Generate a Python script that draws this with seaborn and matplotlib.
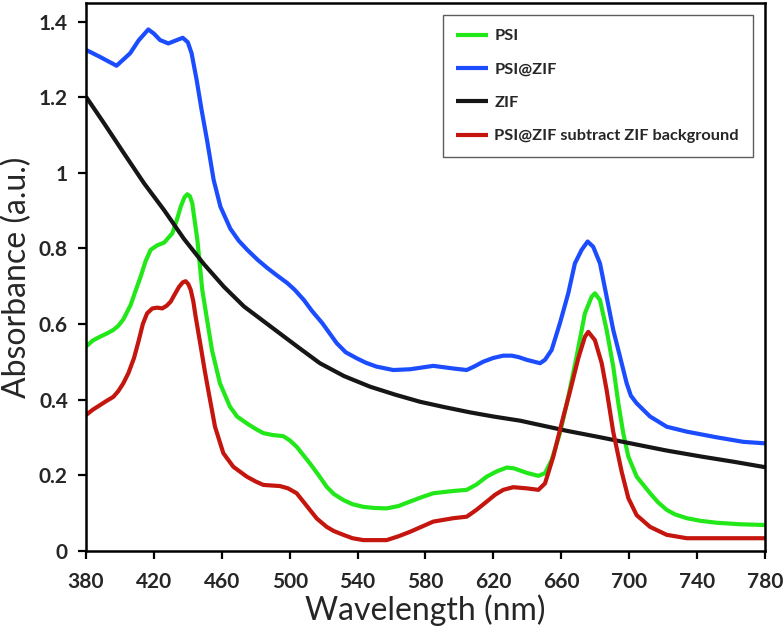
import numpy as np
import pandas as pd
import matplotlib
matplotlib.use("Agg")
import matplotlib.pyplot as plt
from matplotlib.ticker import FuncFormatter
import seaborn as sns

# ---- data ----
psi_zif_wl = [380, 388, 398, 406, 411, 416.7, 420, 423.6, 428.5, 433, 437, 440, 442.2, 445.2, 448.1, 451.3,
              455.2, 459.2, 465, 470, 475, 481, 486.8, 492, 498.6, 503, 508.4, 513, 519.2, 527.7, 533, 539.5,
              545, 551.2, 561, 570.9, 584.6, 596.4, 604.3, 609, 614, 620, 625.8, 630.8, 635, 639.6, 647.5,
              650.4, 654.3, 659.2, 664.1, 668, 672, 675.5, 678.8, 682.8, 686.7, 690.6, 694.6, 698.5, 701,
              704.4, 712.3, 722.1, 733.9, 751.5, 767.2, 780]
psi_zif_abs = [1.325, 1.307, 1.283, 1.316, 1.350, 1.379, 1.368, 1.351, 1.342, 1.350, 1.357, 1.345, 1.316, 1.245,
               1.166, 1.086, 0.981, 0.910, 0.852, 0.820, 0.796, 0.770, 0.748, 0.730, 0.708, 0.690, 0.663, 0.635,
               0.602, 0.549, 0.525, 0.509, 0.497, 0.487, 0.478, 0.480, 0.489, 0.482, 0.478, 0.488, 0.500, 0.510,
               0.516, 0.516, 0.512, 0.505, 0.496, 0.505, 0.531, 0.602, 0.681, 0.760, 0.796, 0.818, 0.804, 0.760,
               0.672, 0.584, 0.513, 0.443, 0.410, 0.390, 0.355, 0.328, 0.315, 0.300, 0.288, 0.284]

zif_wl = [380, 390.6, 402.4, 414.2, 426, 437.7, 449.5, 461.3, 473.1, 488.8, 504.5, 517.8, 532, 547.3, 562,
          576.8, 591, 606.2, 620, 635.7, 649, 663.4, 683, 703, 722, 742.6, 762, 780]
zif_abs = [1.201, 1.131, 1.051, 0.972, 0.901, 0.825, 0.758, 0.698, 0.646, 0.593, 0.540, 0.496, 0.462, 0.434,
           0.413, 0.394, 0.380, 0.366, 0.355, 0.344, 0.331, 0.317, 0.300, 0.282, 0.265, 0.249, 0.235, 0.221]

psi_wl = [380, 384, 388.2, 392, 396.1, 399, 402, 406.3, 409, 412.2, 415, 418.1, 422, 426, 430.9, 433.5, 435.8,
          438, 439.7, 441.2, 442.6, 445.6, 448.5, 451, 454.2, 458.9, 464.8, 469, 474.7, 480, 484.5, 490,
          496.2, 500, 504.1, 511.9, 517, 521.8, 526, 531.6, 537, 543.4, 550, 557.1, 564, 570.9, 578, 584.6,
          596.4, 604.3, 610, 616.1, 622, 627.9, 632, 639.6, 646.5, 650.4, 654.3, 659.2, 664.1, 669, 673.9,
          677.9, 679.8, 682.8, 686.7, 690.6, 693.6, 696.5, 699.5, 704.4, 712.3, 717, 722.1, 727, 733.9, 742,
          751.5, 765, 780]
psi_abs = [0.540, 0.556, 0.566, 0.574, 0.584, 0.595, 0.612, 0.650, 0.685, 0.725, 0.765, 0.796, 0.808, 0.815,
           0.840, 0.875, 0.910, 0.935, 0.943, 0.938, 0.919, 0.822, 0.690, 0.620, 0.531, 0.443, 0.381, 0.355,
           0.337, 0.322, 0.311, 0.306, 0.303, 0.292, 0.275, 0.231, 0.200, 0.169, 0.150, 0.134, 0.123, 0.116,
           0.113, 0.112, 0.118, 0.130, 0.142, 0.152, 0.158, 0.161, 0.175, 0.196, 0.210, 0.220, 0.218, 0.206,
           0.198, 0.205, 0.240, 0.311, 0.407, 0.513, 0.628, 0.672, 0.681, 0.663, 0.584, 0.487, 0.390, 0.311,
           0.249, 0.196, 0.152, 0.128, 0.108, 0.096, 0.086, 0.079, 0.074, 0.070, 0.068]

sub_wl = [380, 384, 388.2, 392, 396.1, 399, 402, 405, 408.3, 411, 413.5, 416, 419.1, 422, 424.9, 427.5, 429.9,
          432.5, 434.8, 437, 438.7, 440.3, 441.7, 443.2, 444.6, 447.6, 450, 452, 456, 460.9, 466.8, 474.7,
          480, 484.5, 494.3, 499, 504.1, 508, 511.9, 516, 521.8, 526, 531.6, 537, 543.4, 557.1, 564, 570.9,
          578, 584.6, 596.4, 604.3, 610, 616.1, 621, 625.8, 631.7, 639.6, 646.5, 650.4, 655.3, 660.2, 665.1,
          670, 673.9, 675.9, 679.8, 683.8, 686.7, 690.6, 695.6, 699.5, 704.4, 712.3, 722.1, 733.9, 761.6, 780]
sub_abs = [0.359, 0.373, 0.385, 0.396, 0.407, 0.422, 0.443, 0.470, 0.510, 0.555, 0.600, 0.628, 0.641, 0.643,
           0.641, 0.648, 0.659, 0.680, 0.698, 0.710, 0.713, 0.705, 0.690, 0.660, 0.619, 0.540, 0.475, 0.425,
           0.328, 0.258, 0.222, 0.196, 0.183, 0.174, 0.171, 0.165, 0.152, 0.130, 0.108, 0.085, 0.063, 0.052,
           0.042, 0.033, 0.028, 0.028, 0.038, 0.050, 0.064, 0.077, 0.086, 0.090, 0.108, 0.130, 0.148, 0.161,
           0.168, 0.165, 0.161, 0.178, 0.249, 0.337, 0.421, 0.509, 0.566, 0.579, 0.557, 0.496, 0.425, 0.314,
           0.208, 0.139, 0.094, 0.063, 0.042, 0.033, 0.033, 0.033]

series_names = ["PSI", "PSI@ZIF", "ZIF", "PSI@ZIF subtract ZIF background"]
series_colors = ["#22e81a", "#1b4dff", "#161616", "#c4160e"]
x_ticks = [380, 420, 460, 500, 540, 580, 620, 660, 700, 740, 780]
y_ticks = [0, 0.2, 0.4, 0.6, 0.8, 1.0, 1.2, 1.4]

frames = []
for name, wl, ab in zip(series_names,
                        [psi_wl, psi_zif_wl, zif_wl, sub_wl],
                        [psi_abs, psi_zif_abs, zif_abs, sub_abs]):
    frames.append(pd.DataFrame({"Wavelength": wl, "Absorbance": ab, "Series": name}))
df = pd.concat(frames, ignore_index=True)

# ---- style ----
sns.set_theme(style="white")
plt.rcParams["font.family"] = ["Lato", "DejaVu Sans"]
plt.rcParams["lines.solid_joinstyle"] = "round"
plt.rcParams["lines.solid_capstyle"] = "round"

fig = plt.figure(figsize=(7.84, 6.32), dpi=100)
ax = fig.add_axes([86 / 784, 1 - 550.7 / 632, (765 - 86) / 784, (550.7 - 3) / 632])

sns.lineplot(data=df, x="Wavelength", y="Absorbance", hue="Series", hue_order=series_names,
             palette=dict(zip(series_names, series_colors)), linewidth=3.0, sort=True,
             estimator=None, ax=ax)
for ln in ax.get_lines():
    ln.set_solid_joinstyle("round")
    ln.set_solid_capstyle("butt")

ax.set_xlim(380, 780)
ax.set_ylim(0, 1.449)
ax.set_xticks(x_ticks)
ax.set_yticks(y_ticks)
ax.yaxis.set_major_formatter(FuncFormatter(lambda v, p: f"{v:g}"))

for lab in ax.get_xticklabels() + ax.get_yticklabels():
    lab.set_fontweight("bold")
    lab.set_fontsize(15)
ax.tick_params(axis="x", direction="out", length=6, width=1.6, color="black", bottom=True, pad=9)
ax.tick_params(axis="y", direction="out", length=6, width=1.6, color="black", left=True, pad=7)

for s in ax.spines.values():
    s.set_visible(True)
    s.set_color("black")
    s.set_linewidth(1.8)

ax.set_xlabel("Wavelength (nm)", fontsize=23, labelpad=2)
ax.set_ylabel("Absorbance (a.u.)", fontsize=23, labelpad=5)

leg = ax.legend(loc="upper right", bbox_to_anchor=((752.7 - 86) / 679, (550.7 - 15) / 547.7),
                borderaxespad=0, frameon=True, fancybox=False, handlelength=1.9,
                handletextpad=0.4, labelspacing=1.15, borderpad=0.85,
                prop={"weight": "bold", "size": 11.8})
leg.get_frame().set_edgecolor("#333333")
leg.get_frame().set_linewidth(1.0)
for line in leg.get_lines():
    line.set_linewidth(3.0)

fig.savefig("out.png", dpi=100)
